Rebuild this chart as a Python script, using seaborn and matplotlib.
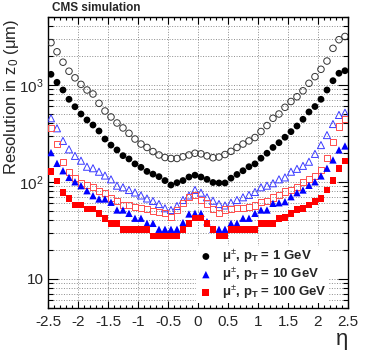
import matplotlib
matplotlib.use("Agg")
import matplotlib.pyplot as plt
from matplotlib.ticker import MultipleLocator, LogLocator, FuncFormatter, NullFormatter
import seaborn as sns

# bin centres in eta
eta = [-2.45, -2.35, -2.25, -2.15, -2.05, -1.95, -1.85, -1.75, -1.65, -1.55,
       -1.45, -1.35, -1.25, -1.15, -1.05, -0.95, -0.85, -0.75, -0.65, -0.55,
       -0.45, -0.35, -0.25, -0.15, -0.05, 0.05, 0.15, 0.25, 0.35, 0.45,
       0.55, 0.65, 0.75, 0.85, 0.95, 1.05, 1.15, 1.25, 1.35, 1.45,
       1.55, 1.65, 1.75, 1.85, 1.95, 2.05, 2.15, 2.25, 2.35, 2.45]

# z0 resolution (um), filled = legend series, open = companion series
res_1gev = [1283, 1061, 884, 709, 594, 500, 434, 385, 334, 276,
            239, 213, 186, 172, 153, 141, 128, 120, 113, 103,
            92.7, 97.9, 103, 112, 117, 112, 106, 98.4, 97.3, 97.3,
            109, 119, 130, 143, 153, 175, 197, 226, 253, 288,
            329, 376, 441, 525, 597, 709, 884, 1102, 1315, 1397]
res_1gev_open = [2720, 2190, 1710, 1380, 1180, 1010, 884, 804, 644, 537,
                 466, 404, 359, 316, 276, 245, 226, 205, 189, 178,
                 174, 174, 181, 189, 197, 194, 185, 177, 180, 191,
                 206, 226, 245, 264, 286, 330, 380, 452, 500, 586,
                 673, 753, 867, 1036, 1213, 1445, 1758, 2377, 2917, 3148]
res_10gev = [200, 155, 130, 111, 100, 91.2, 80.9, 71.9, 66.5, 66.5,
             61.5, 51.2, 51.2, 47.3, 42.1, 42.1, 37.3, 37.3, 32.4, 32.4,
             32.4, 32.4, 38.0, 46.6, 47.3, 47.3, 38.8, 32.4, 32.4, 32.4,
             37.3, 37.3, 42.1, 42.1, 47.3, 51.2, 51.2, 60.0, 60.8, 62.4,
             70.2, 77.2, 82.3, 92.0, 100, 115, 138, 168, 213, 234]
res_10gev_open = [452, 356, 264, 216, 185, 165, 143, 138, 127, 116,
                  106, 91.2, 87.8, 82.3, 77.6, 72.3, 67.3, 63.4, 59.0, 53.3,
                  51.2, 56.3, 64.9, 72.3, 82.3, 77.2, 69.2, 63.8, 59.0, 57.0,
                  60.9, 64.9, 69.2, 73.1, 78.5, 87.8, 91.2, 96.6, 106, 111,
                  127, 136, 146, 161, 194, 239, 303, 394, 489, 516]
res_100gev = [127, 102, 77.2, 67.6, 57.7, 57.7, 52.5, 52.5, 47.3, 42.1,
              37.3, 37.3, 32.4, 32.4, 32.4, 32.4, 32.4, 27.6, 27.6, 27.6,
              27.6, 27.6, 32.4, 37.5, 42.4, 42.4, 37.5, 32.4, 27.6, 27.6,
              32.4, 32.4, 32.4, 32.4, 32.4, 37.3, 37.3, 37.3, 42.1, 43.1,
              47.3, 52.1, 53.3, 57.7, 62.4, 67.6, 82.3, 103, 138, 164]
res_100gev_open = [361, 244, 161, 127, 109, 96.6, 93.4, 87.8, 80.9, 76.0,
                   68.5, 63.0, 57.7, 57.7, 55.0, 53.7, 52.5, 50.0, 48.9, 47.7,
                   43.4, 51.2, 60.4, 69.7, 73.1, 64.9, 59.7, 52.5, 47.7, 51.8,
                   52.0, 53.3, 53.3, 55.0, 57.0, 61.9, 63.4, 68.9, 73.1, 79.4,
                   82.3, 88.4, 99.5, 107, 115, 133, 175, 259, 372, 444]

labels = [r"μ$^{\pm}$, $\mathbf{p_{T}}$ = 1 GeV",
          r"μ$^{\pm}$, $\mathbf{p_{T}}$ = 10 GeV",
          r"μ$^{\pm}$, $\mathbf{p_{T}}$ = 100 GeV"]

sns.set_style("ticks")
plt.rcParams["font.family"] = ["Liberation Sans", "DejaVu Sans"]
plt.rcParams["mathtext.fontset"] = "custom"
plt.rcParams["mathtext.rm"] = "Liberation Sans"
plt.rcParams["mathtext.it"] = "Liberation Sans:italic"
plt.rcParams["mathtext.bf"] = "Liberation Sans:bold"
plt.rcParams["axes.unicode_minus"] = False

fig = plt.figure(figsize=(3.74, 3.55), dpi=100)
ax = fig.add_axes([0.1283, 0.1324, 0.8021, 0.8197])

# open markers first
sns.scatterplot(x=eta, y=res_1gev_open, marker="o", s=22, color="#333333",
                facecolors="none", edgecolor="#333333", linewidth=0.7, ax=ax, zorder=3)
sns.scatterplot(x=eta, y=res_10gev_open, marker="^", s=26, color="#3a3aff",
                facecolors="none", edgecolor="#3a3aff", linewidth=0.7, ax=ax, zorder=3)
sns.scatterplot(x=eta, y=res_100gev_open, marker="s", s=20, color="#ff4d4d",
                facecolors="none", edgecolor="#ff4d4d", linewidth=0.7, ax=ax, zorder=3)

sns.scatterplot(x=eta, y=res_1gev, marker="o", s=24, color="black",
                edgecolor="none", ax=ax, zorder=4)
sns.scatterplot(x=eta, y=res_10gev, marker="^", s=28, color="#0000ff",
                edgecolor="none", ax=ax, zorder=4)
sns.scatterplot(x=eta, y=res_100gev, marker="s", s=24, color="#ff0000",
                edgecolor="none", ax=ax, zorder=4)

ax.set_yscale("log")
ax.set_xlim(-2.5, 2.5)
ax.set_ylim(5, 5000)

ax.xaxis.set_major_locator(MultipleLocator(0.5))
ax.xaxis.set_minor_locator(MultipleLocator(0.1))
ax.xaxis.set_major_formatter(FuncFormatter(lambda v, p: "%g" % v))
ax.yaxis.set_major_locator(LogLocator(base=10, numticks=10))
ax.yaxis.set_minor_locator(LogLocator(base=10, subs=range(2, 10), numticks=20))
ylab = {10: "10", 100: "$10^{2}$", 1000: "$10^{3}$"}
ax.yaxis.set_major_formatter(FuncFormatter(lambda v, p: ylab.get(int(round(v)), "")))
ax.yaxis.set_minor_formatter(NullFormatter())

ax.tick_params(which="both", direction="in", top=True, right=True, labelsize=11,
               color="black", width=0.8)
ax.tick_params(axis="x", which="major", length=5, pad=5)
ax.tick_params(axis="x", which="minor", length=2.5)
ax.tick_params(axis="y", which="major", length=7, pad=3)
ax.tick_params(axis="y", which="minor", length=3.5)

ax.grid(axis="y", which="both", ls=":", color="#8c8c8c", lw=0.7)
ax.grid(axis="x", which="major", ls=":", color="#8c8c8c", lw=0.7)
ax.set_axisbelow(True)
for sp in ax.spines.values():
    sp.set_linewidth(1.0)
    sp.set_color("black")

ax.set_ylabel("Resolution in z$_{0}$ (μm)", fontsize=12, loc="top")
ax.yaxis.set_label_coords(-0.09, 0.995)
ax.set_xlabel("η", fontsize=16, loc="right", labelpad=0)

colls = ax.collections
handles = [colls[3], colls[4], colls[5]]
leg = ax.legend(handles, labels, loc="lower right", bbox_to_anchor=(0.955, -0.005),
                frameon=True, framealpha=1, facecolor="white", edgecolor="none",
                fancybox=False, fontsize=9.5, handletextpad=0.6, labelspacing=0.05,
                borderpad=0.12, handlelength=1.2, markerscale=1.0)
for t in leg.get_texts():
    t.set_fontweight("bold")
leg.set_zorder(5)

fig.text(0.139, 0.978, "CMS simulation", fontsize=8.5, fontweight="bold",
         ha="left", va="center")

fig.savefig("out.png", dpi=100)
